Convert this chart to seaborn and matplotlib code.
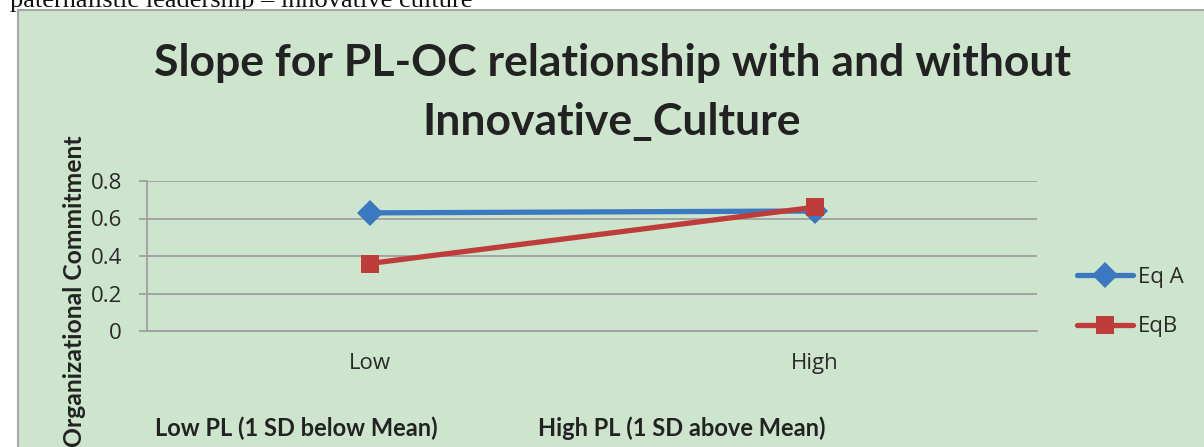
import matplotlib
matplotlib.use("Agg")
import matplotlib.pyplot as plt
from matplotlib.lines import Line2D
from matplotlib.patches import Rectangle
import pandas as pd
import seaborn as sns

# data
pl_levels = ["Low", "High"]
eq_a = [0.63, 0.64]
eq_b = [0.36, 0.66]
series_names = ["Eq A", "EqB"]
y_ticks = [0, 0.2, 0.4, 0.6, 0.8]
y_tick_labels = ["0", "0.2", "0.4", "0.6", "0.8"]

W, H = 1204, 447
GREEN = "#CCE5CC"
GRID = "#A0A0A0"
colors = {"Eq A": "#3C78BF", "EqB": "#BE3D3A"}
markers = {"Eq A": "D", "EqB": "s"}
msizes = {"Eq A": 13.5, "EqB": 13}

df = pd.DataFrame({
    "PL": pl_levels * 2,
    "OC": eq_a + eq_b,
    "series": [series_names[0]] * 2 + [series_names[1]] * 2,
})

sns.set_theme(style="white")
plt.rcParams["font.family"] = ["Lato", "DejaVu Sans"]
small = ["Open Sans", "DejaVu Sans"]

fig = plt.figure(figsize=(W / 100, H / 100), dpi=100, facecolor="white")

# chart area background (cropped chart object)
fig.patches.append(Rectangle((18 / W, -0.05), 1.1, (H - 10) / H + 0.05,
                             transform=fig.transFigure, facecolor=GREEN,
                             edgecolor="#A6A6A6", lw=1.5, zorder=-2))
# cut-off caption above the chart
fig.text(10 / W, (H - 7) / H, "paternalistic leadership – innovative culture",
         family="Liberation Serif", fontsize=19, ha="left", va="baseline",
         color="#111111", zorder=-3)

ax = fig.add_axes([147 / W, (H - 331) / H, 890 / W, 150 / H])
ax.set_zorder(2)
ax.set_facecolor("none")

for name in series_names:
    sub = df[df["series"] == name]
    sns.lineplot(data=sub, x="PL", y="OC", color=colors[name], marker=markers[name],
                 markersize=msizes[name], markeredgewidth=0, linewidth=3.8,
                 sort=False, ax=ax, zorder=3)

ax.set_xlim(-0.5, 1.5)
ax.set_ylim(0, 0.8)
ax.set_xlabel("")
ax.set_ylabel("")

ax.set_yticks(y_ticks)
ax.set_yticklabels(y_tick_labels, family=small)
ax.grid(axis="y", color=GRID, lw=1.3)
ax.set_axisbelow(True)
for s in ["top", "right"]:
    ax.spines[s].set_visible(False)
for s in ["left", "bottom"]:
    ax.spines[s].set_color(GRID)
    ax.spines[s].set_linewidth(1.3)

ax.set_xticks([0, 1])
ax.set_xticklabels(pl_levels, family=small)
ax.set_xticks([-0.5, 0.5, 1.5], minor=True)
ax.tick_params(axis="x", which="major", length=0, pad=16, labelsize=16, labelcolor="#2A2A2A")
ax.tick_params(axis="x", which="minor", length=5.5, width=1.3, color=GRID, direction="out")
ax.tick_params(axis="y", length=6, width=1.3, color=GRID, direction="out", pad=12,
               labelsize=16, labelcolor="#2A2A2A", left=True)

# title
fig.text(612 / W, (H - 63) / H, "Slope for PL-OC relationship with and without",
         fontsize=32, fontweight="bold", ha="center", va="center", color="#222222")
fig.text(612 / W, (H - 122) / H, "Innovative_Culture",
         fontsize=32, fontweight="bold", ha="center", va="center", color="#222222")

# y axis title
fig.text(75 / W, (H - 135) / H, "Organizational Commitment", rotation=90,
         fontsize=17.8, fontweight="bold", ha="center", va="top", color="#222222")

# x axis text boxes
fig.text(155 / W, (H - 428) / H, "Low PL (1 SD below Mean)",
         fontsize=17, fontweight="bold", ha="left", va="center", color="#222222")
fig.text(538 / W, (H - 428) / H, "High PL (1 SD above Mean)",
         fontsize=17, fontweight="bold", ha="left", va="center", color="#222222")

# legend
handles = [Line2D([], [], color=colors[n], marker=markers[n], markersize=msizes[n],
                  markeredgewidth=0, linewidth=3.8) for n in series_names]
fig.legend(handles, series_names, loc="center left",
           bbox_to_anchor=(1057 / W, (H - 302) / H), frameon=False,
           handlelength=2.5, handletextpad=0.23, labelspacing=1.3,
           prop={"family": small, "size": 16}, labelcolor="#2A2A2A")

fig.savefig("out.png", dpi=100, facecolor="white")
